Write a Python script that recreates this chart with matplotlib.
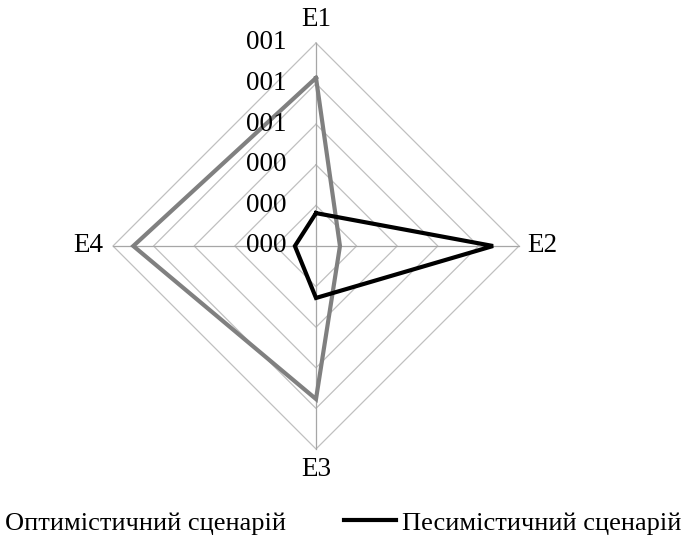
import numpy as np
import matplotlib.pyplot as plt
from matplotlib.lines import Line2D

plt.rcParams['font.family'] = ['Liberation Serif', 'DejaVu Serif']

axes_names = ['E1', 'E2', 'E3', 'E4']
tick_labels = ['000', '000', '000', '001', '001', '001']
optimistic = [4.14, 0.59, 3.77, 4.5]
pessimistic = [0.81, 4.36, 1.28, 0.52]
series_names = ['Оптимістичний сценарій', 'Песимістичний сценарій']
n_rings = 5

# angles: E1 up, then clockwise
ang = np.pi / 2 - np.arange(4) * np.pi / 2
cx, cy = np.cos(ang), np.sin(ang)

fig = plt.figure(figsize=(6.86, 5.43), dpi=100)
ax = fig.add_axes([0, 0, 1, 1])
px = 40.6
ax.set_xlim(-316 / px, (686 - 316) / px)
ax.set_ylim(-(543 - 246) / px, 246 / px)
ax.axis('off')

# grid
for r in range(1, n_rings + 1):
    ax.plot(np.append(cx, cx[0]) * r, np.append(cy, cy[0]) * r, color='#c0c0c0', lw=0.9, zorder=1)
for i in range(4):
    ax.plot([0, cx[i] * n_rings], [0, cy[i] * n_rings], color='#a6a6a6', lw=0.9, zorder=1)

def poly(v):
    v = np.array(v)
    return np.append(cx * v, cx[0] * v[0]), np.append(cy * v, cy[0] * v[0])

ax.plot(*poly(optimistic), color='#808080', lw=3, zorder=3, solid_joinstyle='miter')
ax.plot(*poly(pessimistic), color='black', lw=3, zorder=4, solid_joinstyle='miter')

fs = 19.5
for k, lab in enumerate(tick_labels):
    ax.text(-0.72, k, lab, ha='right', va='center', fontsize=fs, zorder=5)

ax.text(0, (246 - 19) / px, axes_names[0], ha='center', va='center', fontsize=fs)
ax.text((527 - 316) / px, 0, axes_names[1], ha='left', va='center', fontsize=fs)
ax.text(0, (246 - 470) / px, axes_names[2], ha='center', va='center', fontsize=fs)
ax.text((103 - 316) / px, 0, axes_names[3], ha='right', va='center', fontsize=fs)

handles = [Line2D([], [], color='#808080', lw=3), Line2D([], [], color='black', lw=3)]
fig.legend(handles, series_names, loc='center left', bbox_to_anchor=(-0.078, 0.037),
           ncol=2, frameon=False, fontsize=19, handlelength=2.0, handletextpad=0.2,
           columnspacing=2.2, borderpad=0, borderaxespad=0)

fig.savefig('out.png', dpi=100)
